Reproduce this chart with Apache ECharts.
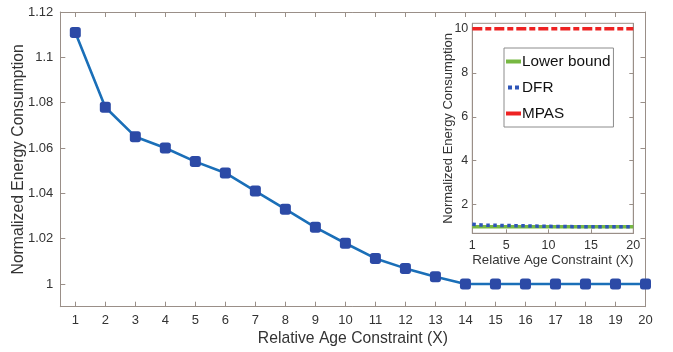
<!DOCTYPE html>
<html><head><meta charset="utf-8">
<script src="https://cdn.jsdelivr.net/npm/echarts@6/dist/echarts.min.js"></script>
<style>html,body{margin:0;padding:0;background:#fff}#c{width:673px;height:352px}</style>
</head><body><div id="c"></div>
<script>
const xValues = [1,2,3,4,5,6,7,8,9,10,11,12,13,14,15,16,17,18,19,20];
const mainValues = [1.111,1.078,1.065,1.060,1.054,1.049,1.041,1.033,1.025,1.018,1.0113,1.0069,1.0032,1.0,1.0,1.0,1.0,1.0,1.0,1.0];
const lowerBound = [1,1,1,1,1,1,1,1,1,1,1,1,1,1,1,1,1,1,1,1];
const dfrValues = mainValues;
const mpasValues = [10,10,10,10,10,10,10,10,10,10,10,10,10,10,10,10,10,10,10,10];
const mainYTicks = [1,1.02,1.04,1.06,1.08,1.1,1.12];
const insetXTicks = [1,5,10,15,20];
const insetYTicks = [2,4,6,8,10];

const FONT = "'Liberation Sans', Arial, Helvetica, sans-serif";
const AX = '#9a8f88';
const TXT = '#333';
const pair = (xs, ys) => xs.map((x,i)=>[x, ys[i]]);

const chart = echarts.init(document.getElementById('c'));
chart.setOption({
  animation:false,
  textStyle:{fontFamily:FONT},
  grid:[
    {left:60.3, top:12, right:27.5, bottom:45.3, outerBoundsMode:'none', containLabel:false},
    {left:472.3, top:23.3, right:39.7, bottom:118.7, outerBoundsMode:'none', containLabel:false,
     show:true, backgroundColor:'#fff', borderColor:AX, borderWidth:1, z:5}
  ],
  xAxis:[
    {gridIndex:0, type:'value', min:0.5, max:20, position:'bottom',
     name:'Relative Age Constraint (X)', nameLocation:'middle', nameGap:24, nameMoveOverlap:false,
     nameTextStyle:{fontSize:15.7, color:TXT, fontFamily:FONT},
     axisLine:{show:true, onZero:false, lineStyle:{color:AX}},
     axisTick:{show:true, inside:true, length:5, customValues:xValues, lineStyle:{color:AX}},
     axisLabel:{customValues:xValues, fontSize:13, color:TXT, margin:7, fontFamily:FONT},
     splitLine:{show:false}},
    {gridIndex:0, type:'value', min:0.5, max:20, position:'top',
     axisLine:{show:true, onZero:false, lineStyle:{color:AX}},
     axisTick:{show:true, inside:true, length:5, customValues:xValues, lineStyle:{color:AX}},
     axisLabel:{show:false}, splitLine:{show:false}},
    {gridIndex:1, type:'value', min:1, max:20, position:'bottom',
     name:'Relative Age Constraint (X)', nameLocation:'middle', nameGap:21, nameMoveOverlap:false,
     nameTextStyle:{fontSize:13.3, color:TXT, fontFamily:FONT},
     axisLine:{show:true, onZero:false, lineStyle:{color:AX}},
     axisTick:{show:true, inside:true, length:4, customValues:insetXTicks, lineStyle:{color:AX}},
     axisLabel:{customValues:insetXTicks, fontSize:12.5, color:TXT, margin:6, fontFamily:FONT},
     splitLine:{show:false}, z:6}
  ],
  yAxis:[
    {gridIndex:0, type:'value', min:0.99, max:1.12, position:'left',
     name:'Normalized Energy Consumption', nameLocation:'middle', nameGap:34, nameMoveOverlap:false,
     nameTextStyle:{fontSize:15.7, color:TXT, fontFamily:FONT},
     axisLine:{show:true, onZero:false, lineStyle:{color:AX}},
     axisTick:{show:true, inside:true, length:5, customValues:mainYTicks, lineStyle:{color:AX}},
     axisLabel:{customValues:mainYTicks, fontSize:13, color:TXT, margin:7, fontFamily:FONT,
       formatter:v=>String(+v.toFixed(2))},
     splitLine:{show:false}},
    {gridIndex:0, type:'value', min:0.99, max:1.12, position:'right',
     axisLine:{show:true, onZero:false, lineStyle:{color:AX}},
     axisTick:{show:true, inside:true, length:5, customValues:mainYTicks, lineStyle:{color:AX}},
     axisLabel:{show:false}, splitLine:{show:false}},
    {gridIndex:1, type:'value', min:0.7, max:10.25, position:'left',
     name:'Normalized Energy Consumption', nameLocation:'middle', nameGap:17, nameMoveOverlap:false,
     nameTextStyle:{fontSize:13, color:TXT, fontFamily:FONT},
     axisLine:{show:true, onZero:false, lineStyle:{color:AX}},
     axisTick:{show:true, inside:true, length:4, customValues:insetYTicks, lineStyle:{color:AX}},
     axisLabel:{customValues:insetYTicks, fontSize:12.5, color:TXT, margin:4, fontFamily:FONT},
     splitLine:{show:false}, z:6},
    {gridIndex:1, type:'value', min:0.7, max:10.25, position:'right',
     axisLine:{show:true, onZero:false, lineStyle:{color:AX}},
     axisTick:{show:true, inside:true, length:4, customValues:insetYTicks, lineStyle:{color:AX}},
     axisLabel:{show:false}, splitLine:{show:false}, z:6}
  ],
  legend:{
    left:504, top:48, orient:'vertical', itemGap:11,
    padding:[6,3,6,2],
    backgroundColor:'#fff', borderColor:'#8c8c8c', borderWidth:1,
    itemWidth:15, itemHeight:4, itemStyle:{borderWidth:0},
    textStyle:{fontSize:15.3, color:'#111', fontFamily:FONT, padding:[0,0,0,-4]},
    z:20,
    data:[
      {name:'Lower bound', icon:'rect', itemStyle:{color:'#77b842'}},
      {name:'DFR', icon:'path://M0,0h4v4h-4z M7,0h4v4h-4z', itemStyle:{color:'#2e55b8'}},
      {name:'MPAS', icon:'rect', itemStyle:{color:'#ee2222'}}
    ]
  },
  series:[
    {type:'line', xAxisIndex:0, yAxisIndex:0, data:pair(xValues, mainValues),
     lineStyle:{color:'#1a6fb8', width:2.6}, symbol:'roundRect', symbolSize:11,
     itemStyle:{color:'#2c4aa6', borderWidth:0}, z:3},
    {name:'Lower bound', type:'line', xAxisIndex:2, yAxisIndex:2, data:pair(xValues, lowerBound),
     lineStyle:{color:'#77b842', width:3.5}, symbol:'none', itemStyle:{color:'#77b842'}, z:7},
    {name:'DFR', type:'line', xAxisIndex:2, yAxisIndex:2, data:pair(xValues, dfrValues),
     lineStyle:{color:'#2e55b8', width:3.5, type:[3.5,3.5]}, symbol:'none', itemStyle:{color:'#2e55b8'}, z:8},
    {name:'MPAS', type:'line', xAxisIndex:2, yAxisIndex:2, data:pair(xValues, mpasValues),
     lineStyle:{color:'#ee2222', width:3.5, type:[10,3,6,3]}, symbol:'none', itemStyle:{color:'#ee2222'}, z:8}
  ]
});
</script></body></html>
